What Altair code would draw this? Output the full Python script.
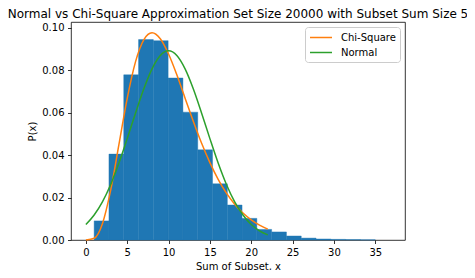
import altair as alt
import pandas as pd

# Histogram bins (density)
bin_left = [1.00, 2.79, 4.58, 6.37, 8.16, 9.95, 11.74, 13.53, 15.32, 17.11,
            18.89, 20.68, 22.47, 24.26, 26.05, 27.84, 29.63, 31.42, 33.21]
bin_right = [2.79, 4.58, 6.37, 8.16, 9.95, 11.74, 13.53, 15.32, 17.11, 18.89,
             20.68, 22.47, 24.26, 26.05, 27.84, 29.63, 31.42, 33.21, 35.00]
density = [0.0090, 0.0405, 0.0779, 0.0945, 0.0940, 0.0764, 0.0603, 0.0425, 0.0265, 0.0165,
           0.0102, 0.0050, 0.0038, 0.0019, 0.0009, 0.0005, 0.0003, 0.0002, 0.0001]

# Curves
curve_x = list(range(0, 23))
chi_square = [0.0000, 0.0008, 0.0077, 0.0235, 0.0451, 0.0668, 0.0840, 0.0944, 0.0977, 0.0949,
              0.0877, 0.0779, 0.0669, 0.0559, 0.0456, 0.0365, 0.0286, 0.0221, 0.0169, 0.0127,
              0.0095, 0.0070, 0.0051]
normal = [0.0073, 0.0118, 0.0180, 0.0262, 0.0363, 0.0478, 0.0598, 0.0712, 0.0807, 0.0870,
          0.0892, 0.0870, 0.0807, 0.0712, 0.0598, 0.0478, 0.0363, 0.0262, 0.0180, 0.0118,
          0.0073, 0.0043, 0.0024]

series_names = ["Chi-Square", "Normal"]
series_colors = ["#ff7f0e", "#2ca02c"]

hist_df = pd.DataFrame({"left": bin_left, "right": bin_right, "density": density})
curves_df = pd.concat([
    pd.DataFrame({"x": curve_x, "y": chi_square, "series": "Chi-Square"}),
    pd.DataFrame({"x": curve_x, "y": normal, "series": "Normal"}),
])

xscale = alt.Scale(domain=[-1.8, 38.6], nice=False, zero=False)
yscale = alt.Scale(domain=[0, 0.1028], nice=False, zero=False)

xaxis = alt.Axis(title="Sum of Subset, x", values=[0, 5, 10, 15, 20, 25, 30, 35], format="d")
yaxis = alt.Axis(title="P(x)", values=[0, 0.02, 0.04, 0.06, 0.08, 0.10], format=".2f")

bars = alt.Chart(hist_df).mark_rect(color="#1f77b4", stroke="#1f77b4", strokeWidth=0.4).encode(
    x=alt.X("left:Q", scale=xscale, axis=xaxis),
    x2="right:Q",
    y=alt.Y("density:Q", scale=yscale, axis=yaxis),
    y2=alt.datum(0),
)

lines = alt.Chart(curves_df).mark_line(strokeWidth=1.5, interpolate="monotone").encode(
    x=alt.X("x:Q", scale=xscale),
    y=alt.Y("y:Q", scale=yscale),
    color=alt.Color(
        "series:N",
        scale=alt.Scale(domain=series_names, range=series_colors),
        legend=alt.Legend(
            title=None,
            orient="top-right",
            offset=5,
            symbolType="M-1,0H3",
            symbolSize=121,
            symbolStrokeWidth=1.5,
            labelFontSize=10,
            labelFont="DejaVu Sans",
            labelColor="black",
            rowPadding=3,
            padding=4,
            strokeColor="#cccccc",
            fillColor="white",
            cornerRadius=3,
            labelOffset=19,
        ),
    ),
    detail="series:N",
)

chart = alt.layer(bars, lines).properties(
    width=334,
    height=218,
    background="white",
    padding={"left": 63, "top": 14, "right": 62, "bottom": 30},
    autosize=alt.AutoSizeParams(type="none"),
    title=alt.TitleParams(
        "Normal vs Chi-Square Approximation Set Size 20000 with Subset Sum Size 5",
        fontSize=12, font="DejaVu Sans", fontWeight="normal", color="black", offset=1,
    ),
).configure_view(
    stroke="black", strokeWidth=0.8
).configure_axis(
    grid=False, domain=False, tickColor="black", tickWidth=0.8, tickSize=3.5,
    labelPadding=3.5, labelFontSize=10, labelFont="DejaVu Sans", labelColor="black",
    titleFontSize=10, titleFont="DejaVu Sans", titleFontWeight="normal", titleColor="black",
    titlePadding=4,
)

chart.save("out.html", embed_options={"renderer": "svg", "actions": False})
